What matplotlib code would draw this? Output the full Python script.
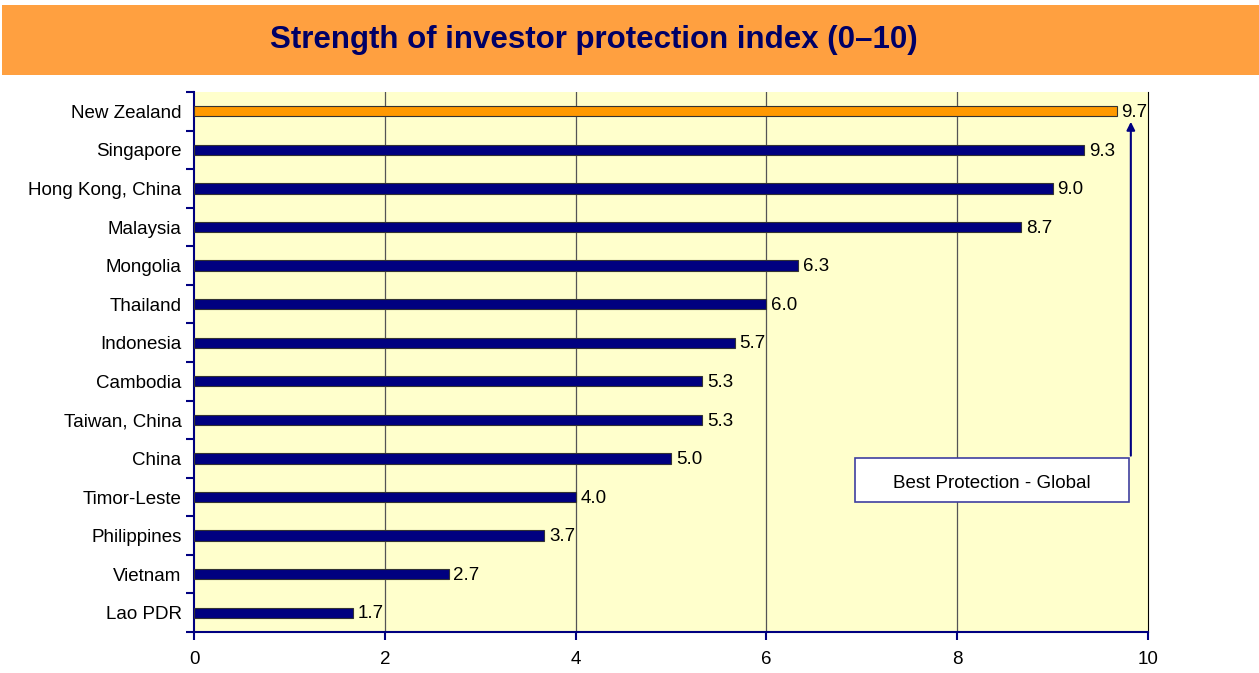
import numpy as np
import matplotlib.pyplot as plt
from matplotlib.patches import Rectangle

countries = ['New Zealand', 'Singapore', 'Hong Kong, China', 'Malaysia', 'Mongolia',
             'Thailand', 'Indonesia', 'Cambodia', 'Taiwan, China', 'China',
             'Timor-Leste', 'Philippines', 'Vietnam', 'Lao PDR']
scores = [9.67, 9.33, 9.0, 8.67, 6.33, 6.0, 5.67, 5.33, 5.33, 5.0, 4.0, 3.67, 2.67, 1.67]
highlight = 'New Zealand'
xticks = [0, 2, 4, 6, 8, 10]
note = 'Best Protection - Global'
title = 'Strength of investor protection index (0\u201310)'

navy = '#000080'
orange = '#FF9900'
plt.rcParams['font.family'] = ['Liberation Sans', 'DejaVu Sans']

fig = plt.figure(figsize=(12.59, 6.73), dpi=100)

# banner
fig.patches.append(Rectangle((2/1259, 1 - 75/673), 1 - 2/1259, 70/673,
                             transform=fig.transFigure, facecolor='#FFA040',
                             edgecolor='none', zorder=0))
fig.text(594/1259, 1 - 40/673, title, ha='center', va='center', fontsize=22.5,
         fontweight='bold', color='#000066')

ax = fig.add_axes([194/1259, 1 - 632/673, (1148 - 194)/1259, (632 - 92)/673])
ax.set_facecolor('#FFFFCC')

y = np.arange(len(countries))
colors = [orange if c == highlight else navy for c in countries]
ax.barh(y, scores, height=0.27, color=colors, edgecolor='#333333', linewidth=0.8, zorder=3)
for yi, v in zip(y, scores):
    ax.text(v + 0.05, yi + 0.03, f'{v:.1f}', va='center', ha='left', fontsize=13.5, zorder=4)

ax.set_xlim(0, 10)
ax.set_ylim(len(countries) - 0.5, -0.5)
ax.set_xticks(xticks)
ax.set_xticklabels([str(t) for t in xticks], fontsize=13.5)
ax.set_yticks(y)
ax.set_yticklabels(countries, fontsize=13.5)
ax.set_yticks(np.arange(len(countries) + 1) - 0.5, minor=True)
ax.tick_params(axis='y', which='major', length=0, pad=9)
ax.tick_params(axis='y', which='minor', length=6, color=navy, width=1.5)
ax.tick_params(axis='x', length=6, color=navy, width=1.5, pad=8)
for xv in xticks[1:-1]:
    ax.axvline(xv, color='#555555', linewidth=0.9, zorder=1)

ax.spines['top'].set_visible(False)
ax.spines['right'].set_color('black')
ax.spines['left'].set_color(navy)
ax.spines['bottom'].set_color(navy)
ax.spines['left'].set_linewidth(1.5)
ax.spines['bottom'].set_linewidth(1.5)

# note box with arrow to best performer
ax.annotate('', xy=(9.82, 0.2), xytext=(9.82, 9.0),
            arrowprops=dict(arrowstyle='-|>', color=navy, lw=1.5, mutation_scale=12), zorder=5)
bx0, bx1 = (855 - 194) / 95.4, (1129 - 194) / 95.4
ax.add_patch(Rectangle((bx0, 8.98), bx1 - bx0, 1.15, facecolor='white',
                       edgecolor='#4040A0', linewidth=1.2, zorder=6))
ax.text((bx0 + bx1) / 2, 9.66, note, ha='center', va='center', fontsize=13.5, zorder=7)

fig.savefig('out.png', dpi=100)
